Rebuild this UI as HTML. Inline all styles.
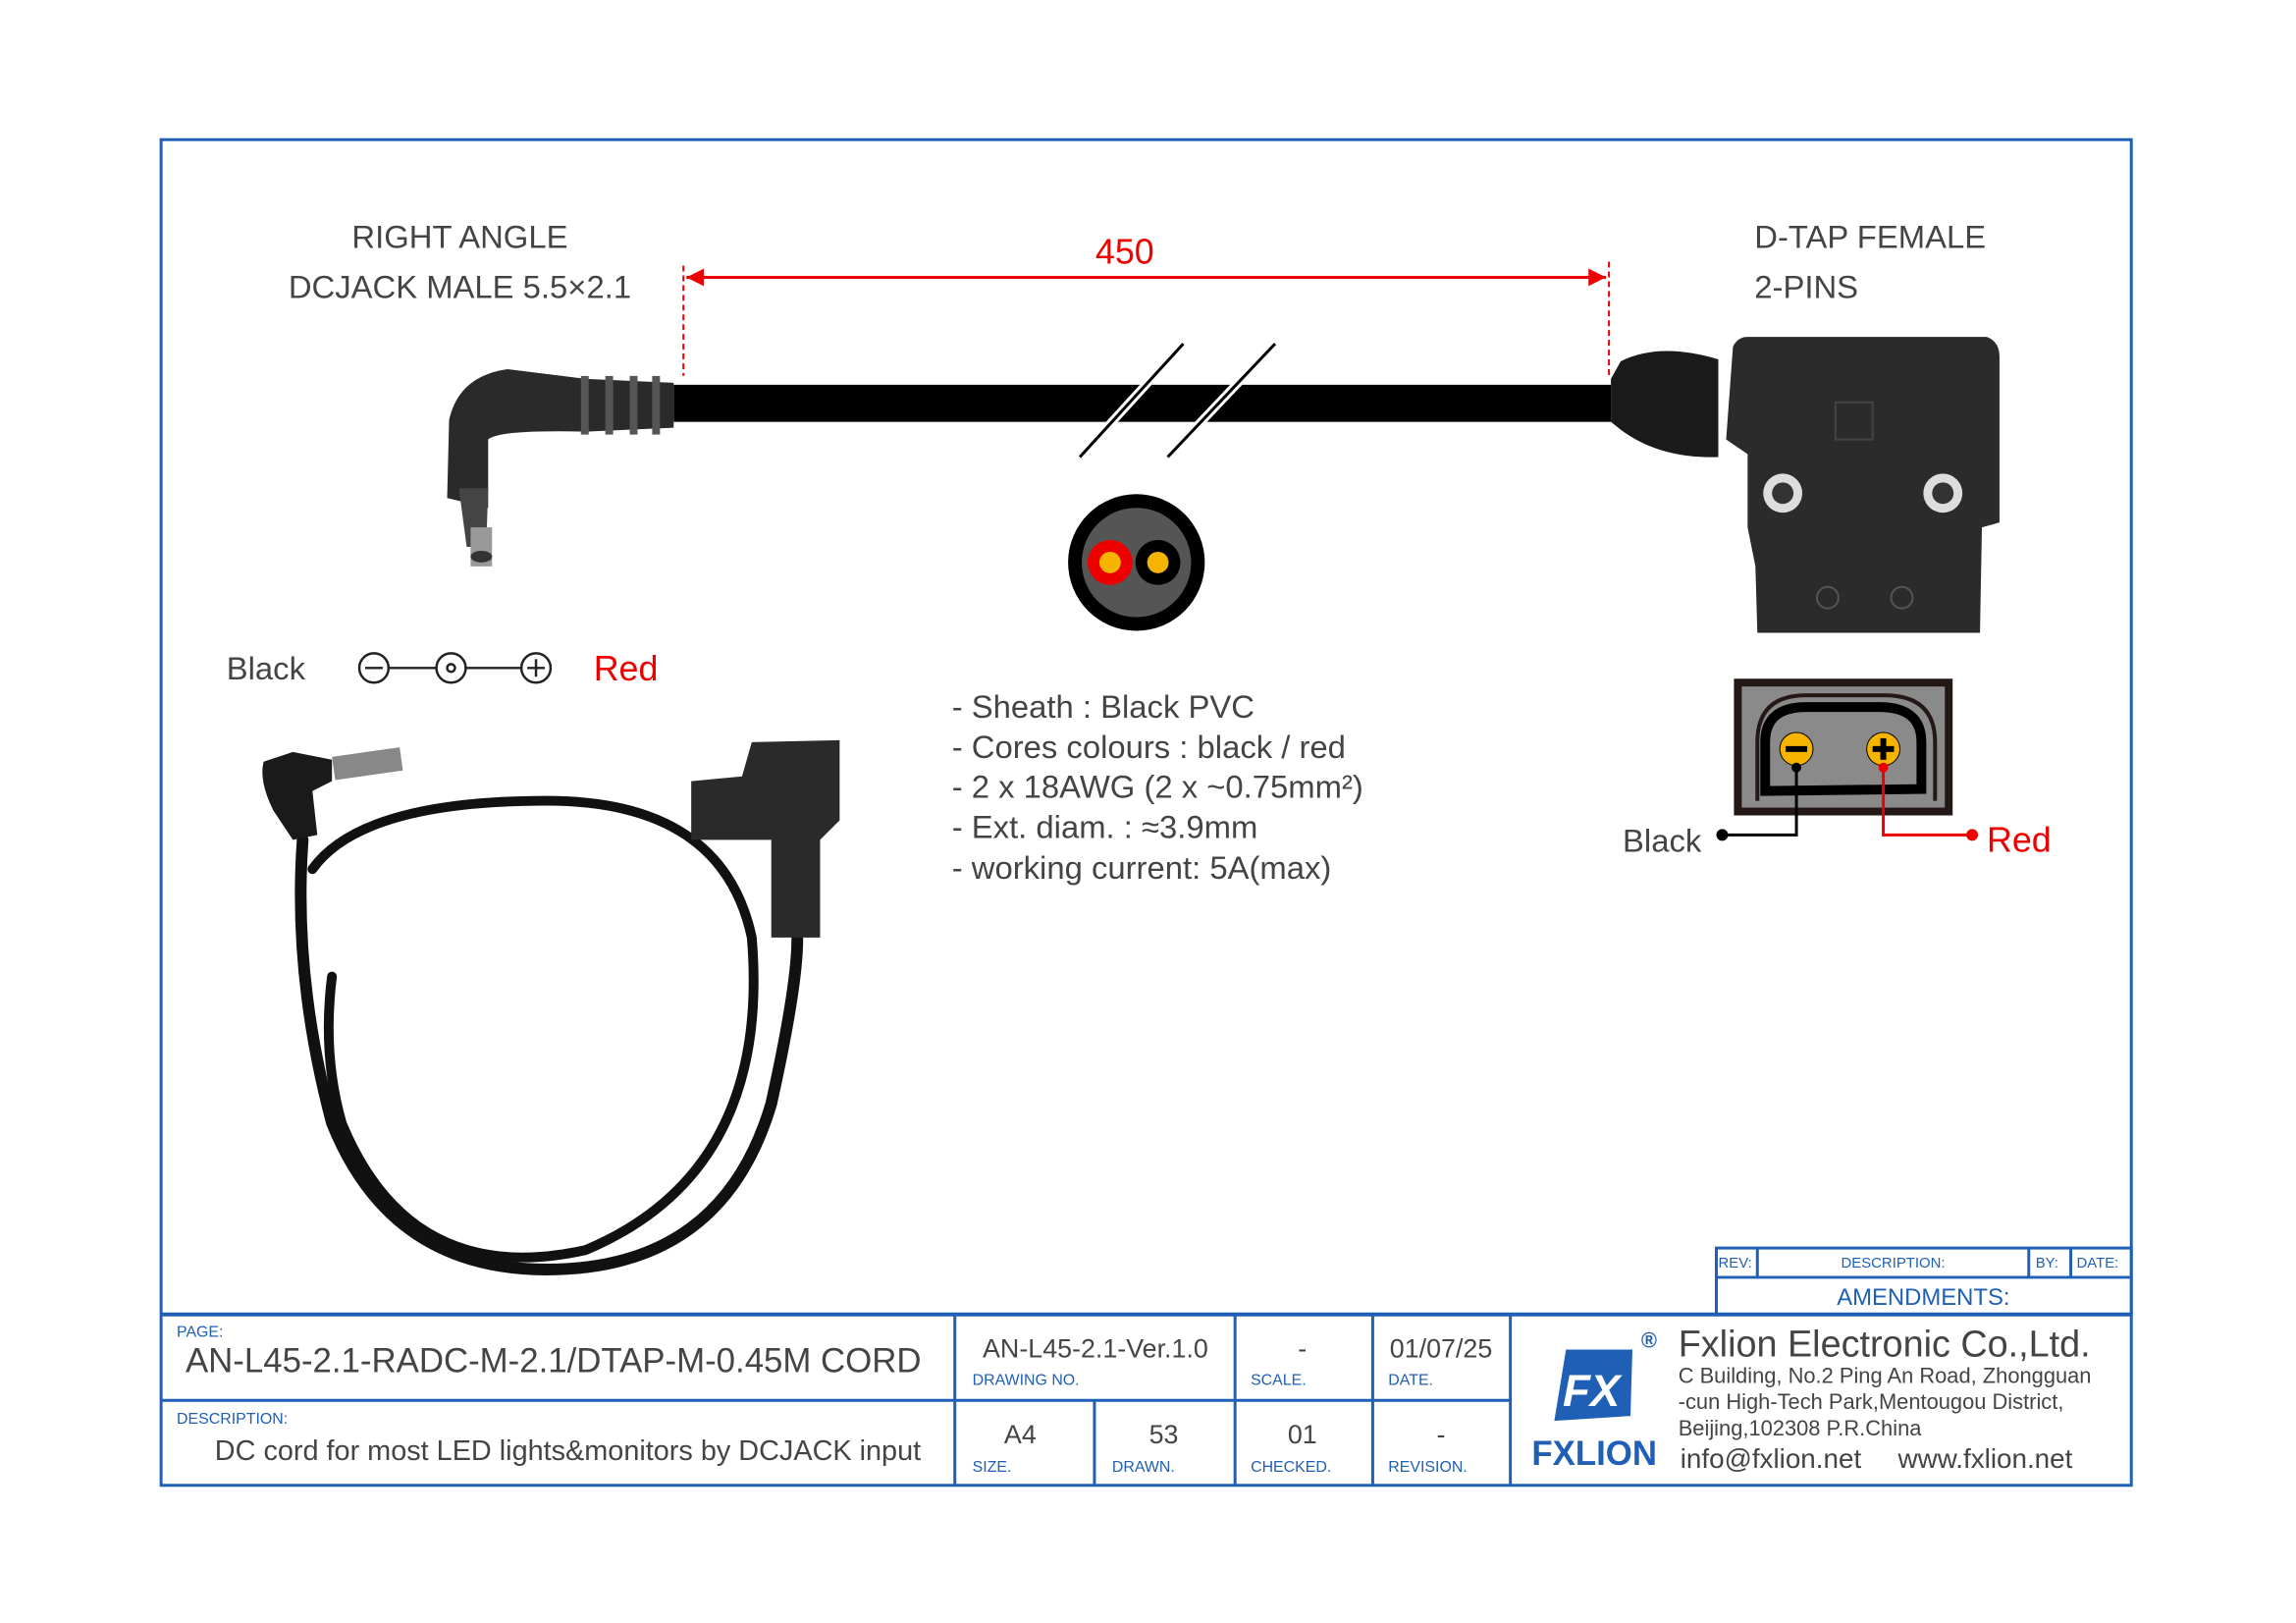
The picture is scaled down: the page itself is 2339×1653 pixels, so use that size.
<!DOCTYPE html>
<html><head><meta charset="utf-8"><style>
html,body{margin:0;padding:0;background:#fff}
svg{display:block}
text{font-family:"Liberation Sans",sans-serif}
</style></head><body>
<svg width="2339" height="1653" viewBox="0 0 2339 1653" xmlns="http://www.w3.org/2000/svg">
<defs>
<marker id="ar" viewBox="0 0 10 10" refX="10" refY="5" markerWidth="6" markerHeight="6" orient="auto-start-reverse"><path d="M0,0L10,5L0,10z" fill="#e00"/></marker>
</defs>
<g transform="scale(0.9946)">
<rect x="165" y="143" width="2018" height="1378" fill="none" stroke="#1f5fb5" stroke-width="3"/>
<g fill="#444" font-size="33">
<text x="471" y="254" text-anchor="middle">RIGHT ANGLE</text>
<text x="471" y="305" text-anchor="middle">DCJACK MALE 5.5×2.1</text>
<text x="1797" y="254">D-TAP FEMALE</text>
<text x="1797" y="305">2-PINS</text>
</g>
<line x1="700" y1="272" x2="700" y2="385" stroke="#e00" stroke-width="2" stroke-dasharray="6,4"/>
<line x1="1648" y1="268" x2="1648" y2="385" stroke="#e00" stroke-width="2" stroke-dasharray="6,4"/>
<line x1="703" y1="284" x2="1645" y2="284" stroke="#e00" stroke-width="3" marker-start="url(#ar)" marker-end="url(#ar)"/>
<text x="1152" y="270" fill="#e00" font-size="36" text-anchor="middle">450</text>
<!-- cable -->
<rect x="690" y="394" width="960" height="38" fill="#000"/>
<line x1="1212" y1="352" x2="1106" y2="468" stroke="#fff" stroke-width="9"/>
<line x1="1306" y1="352" x2="1196" y2="468" stroke="#fff" stroke-width="9"/>
<line x1="1212" y1="352" x2="1106" y2="468" stroke="#000" stroke-width="3"/>
<line x1="1306" y1="352" x2="1196" y2="468" stroke="#000" stroke-width="3"/>
<!-- DC jack -->
<g>
<path d="M690,392 L600,388 L520,378 Q470,385 460,430 L458,510 L500,520 L500,450 Q510,440 600,442 L690,438z" fill="#2a2a2a"/>
<g fill="#555"><rect x="595" y="385" width="8" height="60"/><rect x="620" y="385" width="8" height="60"/><rect x="645" y="385" width="8" height="60"/><rect x="668" y="385" width="8" height="60"/></g>
<path d="M470,500 L500,500 L498,560 L478,560z" fill="#444"/>
<rect x="482" y="540" width="22" height="40" fill="#999"/>
<ellipse cx="493" cy="570" rx="11" ry="6" fill="#333"/>
</g>
<!-- D-tap connector -->
<g>
<path d="M1650,388 L1660,370 Q1700,350 1760,368 L1760,468 Q1700,470 1660,440 L1650,432z" fill="#1a1a1a"/>
<path d="M1775,355 Q1780,345 1790,345 L2035,345 Q2048,350 2048,365 L2048,535 L2030,540 L2028,648 L1800,648 L1798,580 L1790,540 L1790,465 L1768,450z" fill="#2b2b2b"/>
<rect x="1880" y="412" width="38" height="38" fill="none" stroke="#444" stroke-width="2"/>
<circle cx="1826" cy="505" r="20" fill="#ddd"/><circle cx="1826" cy="505" r="11" fill="#333"/>
<circle cx="1990" cy="505" r="20" fill="#ddd"/><circle cx="1990" cy="505" r="11" fill="#333"/>
<circle cx="1872" cy="612" r="11" fill="none" stroke="#555" stroke-width="2"/>
<circle cx="1948" cy="612" r="11" fill="none" stroke="#555" stroke-width="2"/>
</g>
<!-- cross section -->
<circle cx="1164" cy="576" r="70" fill="#000"/>
<circle cx="1164" cy="576" r="56" fill="#555"/>
<circle cx="1137" cy="576" r="23" fill="#e00"/>
<circle cx="1137" cy="576" r="11" fill="#f6b400"/>
<circle cx="1186" cy="576" r="23" fill="#000"/>
<circle cx="1186" cy="576" r="11" fill="#f6b400"/>
<!-- polarity -->
<text x="232" y="696" font-size="33" fill="#444">Black</text>
<g stroke="#222" stroke-width="2.5" fill="none">
<circle cx="383" cy="684" r="15"/><line x1="374" y1="684" x2="392" y2="684"/>
<line x1="398" y1="684" x2="447" y2="684"/>
<circle cx="462" cy="684" r="15"/><circle cx="462" cy="684" r="4"/>
<line x1="477" y1="684" x2="534" y2="684"/>
<circle cx="549" cy="684" r="15"/><line x1="540" y1="684" x2="558" y2="684"/><line x1="549" y1="675" x2="549" y2="693"/>
</g>
<text x="608" y="697" font-size="36" fill="#e00">Red</text>
<g font-size="33" fill="#444">
<text x="975" y="735">- Sheath : Black PVC</text>
<text x="975" y="776">- Cores colours : black / red</text>
<text x="975" y="817">- 2 x 18AWG (2 x ~0.75mm²)</text>
<text x="975" y="858">- Ext. diam. : ≈3.9mm</text>
<text x="975" y="900">- working current: 5A(max)</text>
</g>
<!-- pin diagram -->
<rect x="1776" y="695" width="224" height="140" fill="#231815"/>
<rect x="1784" y="703" width="208" height="124" fill="#8a8a8a"/>
<path d="M1800,820 L1800,760 Q1800,712 1850,712 L1930,712 Q1982,712 1982,760 L1982,820" fill="none" stroke="#231815" stroke-width="4"/>
<path d="M1808,810 L1808,760 Q1808,724 1850,724 L1925,724 Q1968,724 1968,760 L1968,808z" fill="#8a8a8a" stroke="#000" stroke-width="10"/>
<circle cx="1840" cy="767" r="17" fill="#f6b400" stroke="#000" stroke-width="1"/>
<rect x="1829" y="764" width="22" height="6" fill="#000"/>
<circle cx="1929" cy="767" r="17" fill="#f6b400" stroke="#000" stroke-width="1"/>
<rect x="1918" y="764" width="22" height="6" fill="#000"/><rect x="1926" y="756" width="6" height="22" fill="#000"/>
<polyline points="1840,786 1840,855 1764,855" fill="none" stroke="#000" stroke-width="3"/>
<circle cx="1840" cy="786" r="5" fill="#000"/><circle cx="1764" cy="855" r="6" fill="#000"/>
<polyline points="1929,786 1929,855 2020,855" fill="none" stroke="#e00" stroke-width="3"/>
<circle cx="1929" cy="786" r="5" fill="#e00"/><circle cx="2020" cy="855" r="6" fill="#e00"/>
<text x="1662" y="872" font-size="33" fill="#444">Black</text>
<text x="2035" y="872" font-size="36" fill="#e00">Red</text>
<!-- coiled cable photo -->
<g fill="none" stroke="#111" stroke-linecap="round">
<path d="M310,860 Q300,1000 340,1150 Q400,1300 560,1300 Q740,1300 790,1130 Q830,950 810,930" stroke-width="12"/>
<path d="M320,890 Q370,820 560,820 Q740,820 770,960 Q790,1200 600,1280 Q420,1320 350,1150 Q330,1080 340,1000" stroke-width="10"/>
<path d="M810,930 L815,880" stroke-width="14"/>
</g>
<path d="M270,780 Q265,800 280,830 L300,860 L325,855 L320,810 L340,800 L340,778 L300,770z" fill="#1a1a1a"/>
<rect x="340" y="775" width="70" height="24" fill="#888" transform="rotate(-8 340 775)"/>
<path d="M708,800 L760,795 L770,760 L860,758 L860,840 L840,860 L840,960 L790,960 L790,860 L708,860z" fill="#2a2a2a"/>
<!-- amendments -->
<g stroke="#1f5fb5" stroke-width="3" fill="none">
<rect x="1758" y="1278" width="425" height="68"/>
<line x1="1758" y1="1308" x2="2183" y2="1308"/>
<line x1="1800" y1="1278" x2="1800" y2="1308"/>
<line x1="2078" y1="1278" x2="2078" y2="1308"/>
<line x1="2121" y1="1278" x2="2121" y2="1308"/>
</g>
<g fill="#1f5fb5" font-size="15">
<text x="1760" y="1298">REV:</text>
<text x="1939" y="1298" text-anchor="middle">DESCRIPTION:</text>
<text x="2085" y="1298">BY:</text>
<text x="2127" y="1298">DATE:</text>
<text x="1970" y="1336" text-anchor="middle" font-size="24">AMENDMENTS:</text>
</g>
<!-- title block -->
<g stroke="#1f5fb5" stroke-width="3" fill="none">
<line x1="165" y1="1346" x2="2183" y2="1346" stroke-width="4"/>
<line x1="165" y1="1434" x2="1547" y2="1434"/>
<line x1="978" y1="1346" x2="978" y2="1521"/>
<line x1="1265" y1="1346" x2="1265" y2="1521"/>
<line x1="1406" y1="1346" x2="1406" y2="1521"/>
<line x1="1547" y1="1346" x2="1547" y2="1521"/>
<line x1="1121" y1="1434" x2="1121" y2="1521"/>
</g>
<g fill="#1f5fb5" font-size="16">
<text x="181" y="1369">PAGE:</text>
<text x="181" y="1458">DESCRIPTION:</text>
<text x="996" y="1418">DRAWING  NO.</text>
<text x="1281" y="1418">SCALE.</text>
<text x="1422" y="1418">DATE.</text>
<text x="996" y="1507">SIZE.</text>
<text x="1139" y="1507">DRAWN.</text>
<text x="1281" y="1507">CHECKED.</text>
<text x="1422" y="1507">REVISION.</text>
</g>
<g fill="#444">
<text x="190" y="1405" font-size="35">AN-L45-2.1-RADC-M-2.1/DTAP-M-0.45M CORD</text>
<text x="220" y="1495" font-size="29">DC cord for most LED lights&amp;monitors by DCJACK input</text>
<text x="1122" y="1390" font-size="27" text-anchor="middle">AN-L45-2.1-Ver.1.0</text>
<text x="1334" y="1390" font-size="27" text-anchor="middle">-</text>
<text x="1476" y="1390" font-size="27" text-anchor="middle">01/07/25</text>
<text x="1045" y="1478" font-size="27" text-anchor="middle">A4</text>
<text x="1192" y="1478" font-size="27" text-anchor="middle">53</text>
<text x="1334" y="1478" font-size="27" text-anchor="middle">01</text>
<text x="1476" y="1478" font-size="27" text-anchor="middle">-</text>
<text x="1719" y="1389" font-size="38">Fxlion Electronic Co.,Ltd.</text>
<text x="1719" y="1416" font-size="22">C Building, No.2 Ping An Road, Zhongguan</text>
<text x="1719" y="1443" font-size="22">-cun High-Tech Park,Mentougou District,</text>
<text x="1719" y="1470" font-size="22">Beijing,102308 P.R.China</text>
<text x="1721" y="1503" font-size="28">info@fxlion.net</text>
<text x="1944" y="1503" font-size="28">www.fxlion.net</text>
</g>
<path d="M1604,1382 L1672,1382 L1670,1450 L1592,1455z" fill="#1f5fb5"/>
<text x="1630" y="1440" font-size="46" fill="#fff" font-weight="bold" font-style="italic" text-anchor="middle">FX</text>
<text x="1681" y="1380" font-size="22" fill="#1f5fb5" font-weight="bold">®</text>
<text x="1633" y="1500" font-size="35" fill="#1f5fb5" font-weight="bold" text-anchor="middle">FXLION</text>
</g>
</svg>
</body></html>
